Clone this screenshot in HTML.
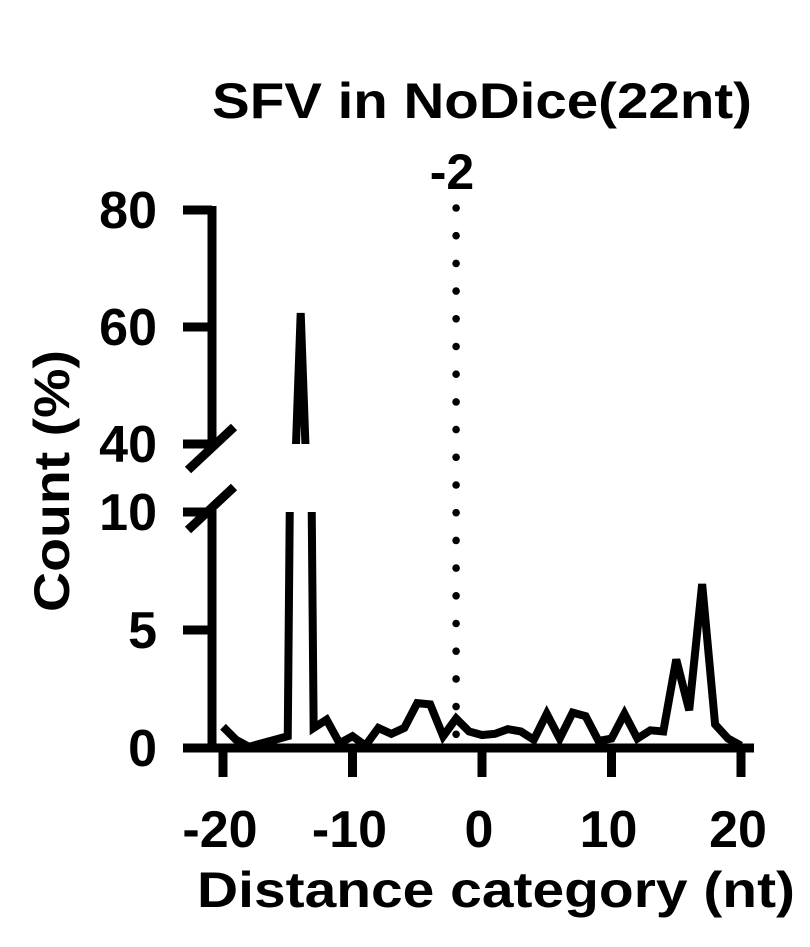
<!DOCTYPE html>
<html><head><meta charset="utf-8"><style>
html,body{margin:0;padding:0;background:#fff;}
svg{display:block;font-family:"Liberation Sans",Arial,sans-serif;font-weight:bold;}
</style></head><body>
<svg id="chart" width="810" height="947" viewBox="0 0 810 947" xmlns="http://www.w3.org/2000/svg">
<defs>
<clipPath id="clipLow"><rect x="200" y="512" width="580" height="245"/></clipPath>
<clipPath id="clipUp"><rect x="200" y="200" width="580" height="244"/></clipPath>
</defs>
<text x="482" y="118" font-size="50" text-anchor="middle" textLength="540" lengthAdjust="spacingAndGlyphs">SFV in NoDice(22nt)</text>
<text x="452" y="189" font-size="50" text-anchor="middle">-2</text>
<text transform="translate(69,481) rotate(-90)" font-size="50" text-anchor="middle" textLength="262" lengthAdjust="spacingAndGlyphs">Count (%)</text>
<text x="496" y="907" font-size="50" text-anchor="middle" textLength="598" lengthAdjust="spacingAndGlyphs">Distance category (nt)</text>
<g id="axes"></g>
<g id="marks"></g>
</svg>
<script>
const categories = [-20,-19,-18,-17,-16,-15,-14,-13,-12,-11,-10,-9,-8,-7,-6,-5,-4,-3,-2,-1,0,1,2,3,4,5,6,7,8,9,10,11,12,13,14,15,16,17,18,19,20];
const countValues = [0.9,0.35,0.05,0.2,0.35,0.5,62.4,0.85,1.2,0.2,0.5,0.1,0.85,0.6,0.85,1.9,1.85,0.5,1.25,0.7,0.55,0.6,0.8,0.7,0.35,1.45,0.4,1.5,1.35,0.3,0.4,1.45,0.4,0.75,0.7,3.75,1.6,6.95,1.0,0.4,0.1];
const xTicks = [-20,-10,0,10,20];
const yTicksLow = [0,5,10];
const yTicksUp = [40,60,80];
const markerX = -2;

const NS="http://www.w3.org/2000/svg";
const x = v => 482 + v*12.95;
const yLow = v => 748 - v*23.6;
const yUp = v => 444 - (v-40)*5.85;
function mk(tag, attrs, parent){const e=document.createElementNS(NS,tag);for(const k in attrs)e.setAttribute(k,attrs[k]);parent.appendChild(e);return e;}
const axes=document.getElementById('axes'), marks=document.getElementById('marks');

let e=mk('line',{x1:212,y1:206,x2:212,y2:444,stroke:'#000','stroke-width':9},axes);


e=mk('line',{x1:212,y1:510,x2:212,y2:752,stroke:'#000','stroke-width':9},axes);


e=mk('line',{x1:188,y1:470,x2:234,y2:427,stroke:'#000','stroke-width':9},axes);


e=mk('line',{x1:188,y1:530,x2:234,y2:487,stroke:'#000','stroke-width':9},axes);


e=mk('line',{x1:208,y1:748,x2:754,y2:748,stroke:'#000','stroke-width':9},axes);



function yTick(val,yy){
  let t=mk('line',{x1:183,y1:yy,x2:212,y2:yy,stroke:'#000','stroke-width':9},axes);
  
  
  let l=mk('text',{x:157,y:yy+18,'font-size':52,'text-anchor':'end'},axes);
  l.textContent=val;
  
  
}
yTicksLow.forEach(v=>yTick(v,yLow(v)));
yTicksUp.forEach(v=>yTick(v,yUp(v)));
xTicks.forEach(v=>{
  let t=mk('line',{x1:x(v),y1:748,x2:x(v),y2:777,stroke:'#000','stroke-width':9},axes);
  
  
  let l=mk('text',{x:x(v)-3,y:847,'font-size':52,'text-anchor':'middle'},axes);
  l.textContent=v;
  
  
});
for(let yy=208; yy<=735; yy+=27.7){
  let d=mk('circle',{cx:x(markerX),cy:yy,r:3.8,fill:'#000'},axes);
  
  
}
const ptsLow=categories.map((c,i)=>x(c)+','+yLow(countValues[i])).join(' ');
const ptsUp=categories.map((c,i)=>x(c)+','+yUp(countValues[i])).join(' ');
e=mk('polyline',{points:ptsLow,fill:'none',stroke:'#000','stroke-width':8,'stroke-linejoin':'miter','stroke-miterlimit':4,'clip-path':'url(#clipLow)'},marks);


e=mk('polyline',{points:ptsUp,fill:'none',stroke:'#000','stroke-width':8,'stroke-linejoin':'bevel','clip-path':'url(#clipUp)'},marks);


</script>
</body></html>
